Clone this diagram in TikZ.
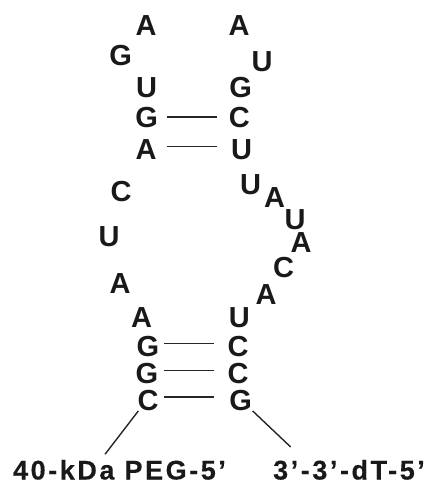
\documentclass[tikz,border=0pt]{standalone}
\usepackage{fontspec}
\setmainfont{Liberation Sans}
\begin{document}
\begin{tikzpicture}[x=1pt,y=-1pt,
  base/.style={inner sep=0pt,font=\fontsize{29}{29}\selectfont\bfseries,text=black!90},
  lab/.style={inner sep=0pt,anchor=base,font=\fontsize{27}{27}\selectfont\bfseries\addfontfeature{LetterSpace=9.5,FakeBold=0.3},text=black!90},
  bond/.style={draw=black!85,line width=1.4pt}]
\useasboundingbox (0,0) rectangle (425,483);
\node[base] (a1) at (146,26) {A};
\node[base] (g1) at (120.7,56) {G};
\node[base] (u1) at (146.7,88) {U};
\node[base] (g2) at (146.7,118) {G};
\node[base] (a2) at (146,150) {A};
\node[base] (c1) at (121,192) {C};
\node[base] (u2) at (109,237) {U};
\node[base] (a3) at (120,284) {A};
\node[base] (a4) at (141.7,318) {A};
\node[base] (g3) at (148,347) {G};
\node[base] (g4) at (147,374) {G};
\node[base] (c2) at (148,401) {C};
\node[base] (a5) at (239,26) {A};
\node[base] (u3) at (262,62) {U};
\node[base] (g5) at (240.7,88) {G};
\node[base] (c3) at (239.3,118) {C};
\node[base] (u4) at (241.7,150) {U};
\node[base] (u5) at (250.7,185) {U};
\node[base] (a6) at (274.7,198) {A};
\node[base] (u6) at (295,220) {U};
\node[base] (a7) at (301,243) {A};
\node[base] (c4) at (283.7,268) {C};
\node[base] (a8) at (266,295) {A};
\node[base] (u7) at (239.3,318) {U};
\node[base] (c5) at (238,347) {C};
\node[base] (c6) at (238,374) {C};
\node[base] (g6) at (240.7,401) {G};
\node[lab] (peg) at (119.5,479.5) {40-kDa PEG-5'};
\node[lab] (dt) at (349,479.5) {3'-3'-dT-5'};
\draw[bond] ([shift={(20,-1)}]g2.center) -- ([shift={(-22.6,-1)}]c3.center);
\draw[bond] ([shift={(20.7,-3.3)}]a2.center) -- ([shift={(-25,-3.3)}]u4.center);
\draw[bond] ([shift={(16,-3.3)}]g3.center) -- ([shift={(-24,-3.3)}]c5.center);
\draw[bond] ([shift={(17,-3.3)}]g4.center) -- ([shift={(-24,-3.3)}]c6.center);
\draw[bond] ([shift={(16,-4)}]c2.center) -- ([shift={(-26.7,-4)}]g6.center);
\draw[bond] ([shift={(-9.7,10)}]c2.center) -- ([shift={(-14.5,-25.2)}]peg.base);
\draw[bond] ([shift={(12,10)}]g6.center) -- ([shift={(-58.3,-32.5)}]dt.base);
\end{tikzpicture}
\end{document}
